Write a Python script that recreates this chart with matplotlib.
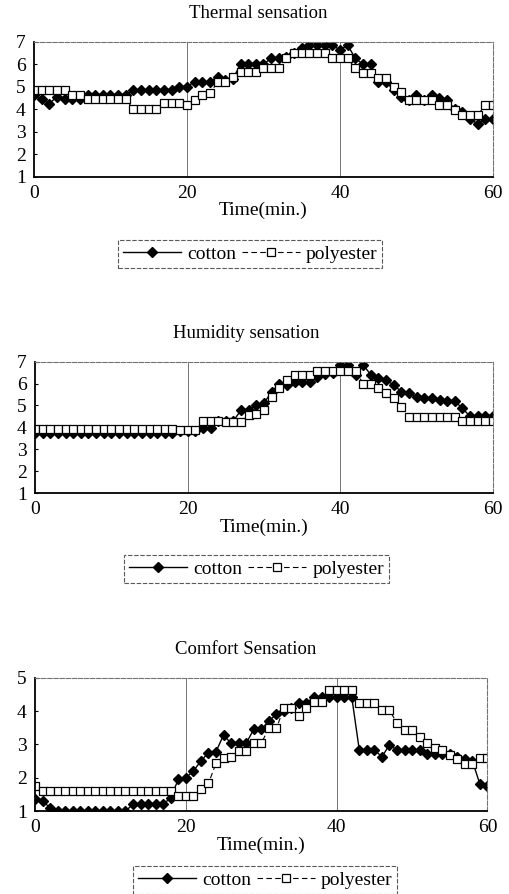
import numpy as np
import matplotlib
matplotlib.use('Agg')
import matplotlib.pyplot as plt

plt.rcParams['font.family'] = ['Liberation Serif', 'DejaVu Serif']
plt.rcParams['font.size'] = 14

# ── data ────────────────────────────────────────────────────
minutes = list(range(61))

thermal_cotton = [4.63, 4.45, 4.25, 4.55, 4.45, 4.45, 4.45, 4.63, 4.63, 4.63,
                  4.63, 4.63, 4.63, 4.85, 4.85, 4.85, 4.85, 4.85, 4.85, 5.0,
                  5.0, 5.22, 5.22, 5.22, 5.44, 5.3, 5.35, 6.0, 6.0, 6.0,
                  6.0, 6.26, 6.26, 6.3, 6.48, 6.7, 6.85, 6.85, 6.85, 6.85,
                  6.63, 6.85, 6.26, 6.0, 6.0, 5.22, 5.22, 4.85, 4.56, 4.41,
                  4.63, 4.41, 4.63, 4.48, 4.41, 4.0, 3.89, 3.55, 3.35, 3.55,
                  3.55]
thermal_poly = [4.85, 4.85, 4.85, 4.85, 4.85, 4.63, 4.63, 4.45, 4.45, 4.45,
                4.45, 4.45, 4.45, 4.0, 4.0, 4.0, 4.0, 4.27, 4.27, 4.27,
                4.2, 4.41, 4.63, 4.7, 5.22, 5.22, 5.44, 5.67, 5.67, 5.67,
                5.81, 5.81, 5.81, 6.26, 6.48, 6.48, 6.48, 6.48, 6.48, 6.26,
                6.26, 6.26, 5.81, 5.6, 5.6, 5.37, 5.37, 5.0, 4.78, 4.41,
                4.41, 4.41, 4.41, 4.19, 4.19, 3.96, 3.74, 3.74, 3.74, 4.19,
                4.19]

humidity_cotton = [3.72] * 19 + [3.85, 3.85, 3.85, 3.95, 3.95,
                   4.3, 4.3, 4.3, 4.79, 4.79, 5.0,
                   5.1, 5.63, 6.0, 5.93, 6.09, 6.09, 6.09, 6.32, 6.45, 6.5,
                   6.85, 6.85, 6.4, 6.85, 6.4, 6.24, 6.16, 5.93, 5.63, 5.55,
                   5.4, 5.33, 5.33, 5.25, 5.2, 5.2, 4.87, 4.5, 4.5, 4.5,
                   4.5]
humidity_poly = [3.92] * 19 + [3.88, 3.88, 3.88, 4.3, 4.3,
                 4.3, 4.25, 4.25, 4.25, 4.55, 4.6,
                 4.8, 5.4, 5.78, 6.16, 6.39, 6.39, 6.39, 6.59, 6.59, 6.59,
                 6.59, 6.59, 6.59, 5.98, 5.98, 5.78, 5.55, 5.33, 4.95, 4.49,
                 4.49, 4.49, 4.49, 4.49, 4.49, 4.49, 4.3, 4.3, 4.3, 4.3,
                 4.3]

comfort_cotton = [1.35, 1.3, 1.1, 1.0, 1.0, 1.0, 1.0, 1.0, 1.0, 1.0,
                  1.0, 1.0, 1.0, 1.2, 1.2, 1.2, 1.2, 1.2, 1.4, 1.95,
                  2.0, 2.2, 2.5, 2.75, 2.78, 3.28, 3.03, 3.03, 3.03, 3.45,
                  3.45, 3.7, 3.9, 4.0, 4.1, 4.25, 4.25, 4.42, 4.42, 4.42,
                  4.42, 4.42, 4.42, 2.83, 2.83, 2.83, 2.63, 2.98, 2.83, 2.83,
                  2.83, 2.83, 2.7, 2.7, 2.7, 2.7, 2.63, 2.55, 2.5, 1.8,
                  1.75]
comfort_poly = [1.75] + [1.6] * 18 + [1.45, 1.45, 1.45,
                1.65, 1.83, 2.43, 2.6, 2.63, 2.8, 2.8, 3.03,
                3.03, 3.48, 3.48, 4.08, 4.08, 3.85, 4.08, 4.28, 4.28, 4.63,
                4.63, 4.63, 4.63, 4.23, 4.23, 4.23, 4.03, 4.03, 3.63, 3.43,
                3.43, 3.23, 3.03, 2.88, 2.83, 2.68, 2.55, 2.4, 2.4, 2.6,
                2.6]

titles = ['Thermal sensation', 'Humidity sensation', 'Comfort Sensation']
y_ranges = [(1, 7), (1, 7), (1, 5)]

# ── layout in pixels (figure is 510 x 894) ──────────────────
W, H = 510, 894
# left, right, top, bottom of each plot frame
boxes = [(34, 493, 41.7, 176.7), (35, 493, 361.7, 493), (35, 487.5, 677.7, 811)]
title_x = [258, 246.5, 246]
legend_xy = [(250, 254), (256.5, 569), (265, 880)]

fig = plt.figure(figsize=(W / 100, H / 100), dpi=100)

panels = [(thermal_cotton, thermal_poly),
          (humidity_cotton, humidity_poly),
          (comfort_cotton, comfort_poly)]

for i, (cotton, poly) in enumerate(panels):
    l, r, t, b = boxes[i]
    ax = fig.add_axes([l / W, 1 - b / H, (r - l) / W, (b - t) / H])

    ax.plot(minutes, cotton, color='black', lw=1.0, marker='D', ms=5.4,
            mfc='black', mec='black', label='cotton')
    ax.plot(minutes, poly, color='black', lw=0.8, ls=(0, (5, 3)), marker='s',
            ms=6, mfc='white', mec='black', mew=0.9, label='polyester')

    # faint vertical lines at 20 and 40 min
    for xv in (20, 40):
        ax.axvline(xv, color='0.45', lw=0.7, zorder=0)

    ax.set_xlim(0, 60)
    ax.set_ylim(*y_ranges[i])
    ax.set_xticks([0, 20, 40, 60])
    ax.set_yticks(range(y_ranges[i][0], y_ranges[i][1] + 1))
    ax.tick_params(axis='x', length=0, pad=6)
    ax.tick_params(axis='y', length=2, direction='in', pad=6)

    for side in ('left', 'bottom'):
        ax.spines[side].set_color('black')
        ax.spines[side].set_linewidth(1.3)
    for side in ('top', 'right'):
        ax.spines[side].set_color('0.45')
        ax.spines[side].set_linewidth(0.8)
        ax.spines[side].set_linestyle((0, (4, 1.5)))

    ax.set_title(titles[i], x=(title_x[i] - l) / (r - l), pad=17,
                 fontsize=13.5)
    ax.set_xlabel('Time(min.)', labelpad=0)

    lx, ly = legend_xy[i]
    leg = ax.legend(loc='center', bbox_to_anchor=(lx / W, 1 - ly / H),
                    bbox_transform=fig.transFigure, ncol=2, numpoints=1,
                    handlelength=3.0, handletextpad=0.3, columnspacing=0.3,
                    borderpad=0.25, fancybox=False, framealpha=1,
                    edgecolor='0.35', fontsize=14)
    leg.get_frame().set_linewidth(0.8)
    leg.get_frame().set_linestyle((0, (4, 1.5)))

fig.savefig('out.png', dpi=100)
